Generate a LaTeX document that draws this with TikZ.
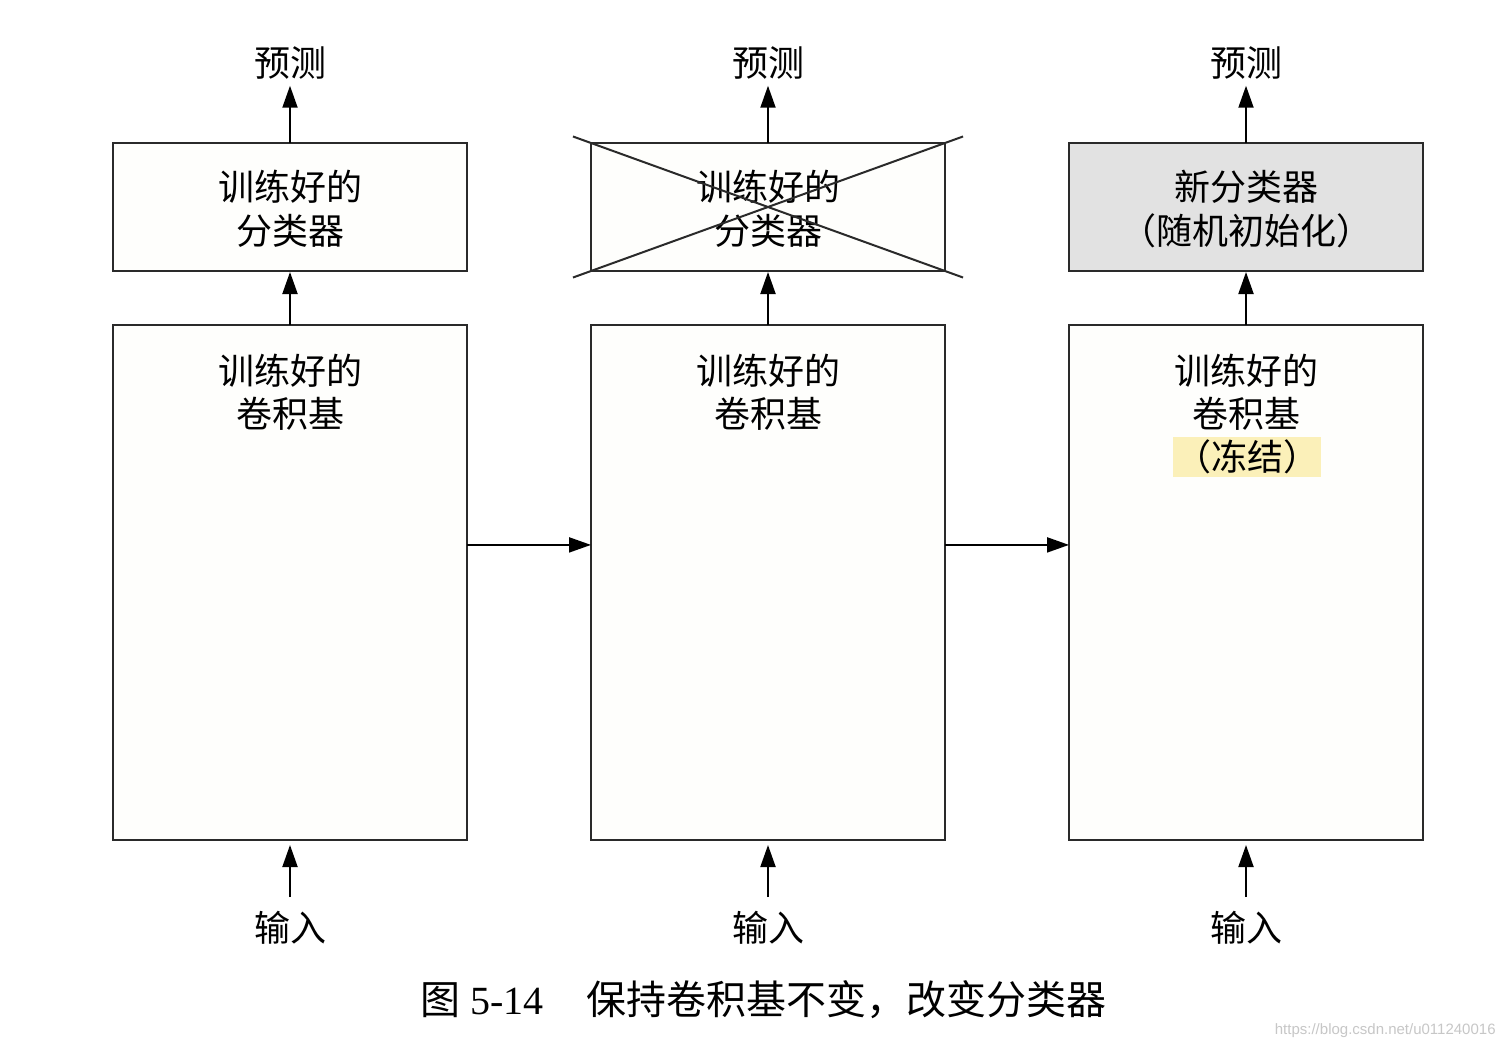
\documentclass[tikz,border=0pt]{standalone}
\usepackage{fontspec}
\setmainfont{Liberation Serif}
\newfontfamily\cjk{Noto Sans CJK SC}
\newfontfamily\wmfont{Liberation Sans}
\usetikzlibrary{arrows.meta,calc}
\definecolor{boxfill}{HTML}{FEFEFC}
\definecolor{grayfill}{HTML}{E2E2E2}
\definecolor{hl}{HTML}{FBF0B9}
\definecolor{edge}{HTML}{2A2A2A}
\begin{document}
\begin{tikzpicture}[x=0.5pt,y=-0.5pt,
  box/.style={draw=edge,line width=1.1pt,fill=boxfill,minimum width=177pt,outer sep=0pt,inner sep=0pt},
  clsbox/.style={box,minimum height=64pt,align=center,text depth=0pt,font=\cjk\fontsize{18pt}{22pt}\selectfont},
  basebox/.style={box,minimum height=257.5pt},
  lbl/.style={align=center,inner sep=0pt,font=\cjk\fontsize{18pt}{21.5pt}\selectfont},
  io/.style={inner sep=0pt,font=\cjk\fontsize{18pt}{20pt}\selectfont},
  arr/.style={line width=1pt,draw=black,-{Triangle[length=11pt,width=7.5pt]}},
  crossline/.style={line width=1pt,draw=edge}]
\useasboundingbox[fill=white] (0,0) rectangle (1504,1050);

% column 1
\node[clsbox] (c1) at (290,207) {训练好的\\分类器};
\node[basebox] (b1) at (290,582.5) {};
\node[lbl] (t1) at (290,392) {训练好的\\卷积基};
\node[io] (p1) at (290,63) {预测};
\node[io] (i1) at (290,928) {输入};

% column 2
\node[clsbox] (c2) at (768,207) {训练好的\\分类器};
\node[basebox] (b2) at (768,582.5) {};
\node[lbl] (t2) at (768,392) {训练好的\\卷积基};
\node[io] (p2) at (768,63) {预测};
\node[io] (i2) at (768,928) {输入};
\draw[crossline] ($(c2.north west)!-0.051!(c2.south east)$) -- ($(c2.south east)!-0.051!(c2.north west)$);
\draw[crossline] ($(c2.south west)!-0.051!(c2.north east)$) -- ($(c2.north east)!-0.051!(c2.south west)$);

% column 3
\node[clsbox,fill=grayfill] (c3) at (1246,207) {新分类器\\（随机初始化）};
\node[basebox] (b3) at (1246,582.5) {};
\node[lbl] (t3) at (1246,392) {训练好的\\卷积基};
\node[lbl,fill=hl,minimum width=74pt,minimum height=20pt] (f3) at (1247,457) {（冻结）};
\node[io] (p3) at (1246,63) {预测};
\node[io] (i3) at (1246,928) {输入};

% arrows
\foreach \k in {1,2,3}{
  \draw[arr,shorten >=3pt] (c\k.north) -- (p\k.south);
  \draw[arr,shorten >=0.5pt] (b\k.north) -- (c\k.south);
  \draw[arr,shorten <=7pt,shorten >=2.5pt] (i\k.north) -- (b\k.south);
}
\draw[arr] ($(b1.north east)!0.427!(b1.south east)$) -- ($(b2.north west)!0.427!(b2.south west)$);
\draw[arr] ($(b2.north east)!0.427!(b2.south east)$) -- ($(b3.north west)!0.427!(b3.south west)$);

% caption
\node[anchor=west,inner sep=0pt,font=\fontsize{20pt}{24pt}\selectfont] (cap1) at (420,1000) {{\cjk 图}\hspace{5pt}5-14};
\node[anchor=west,inner sep=0pt,font=\cjk\fontsize{20pt}{24pt}\selectfont] (cap2) at (586,1000) {保持卷积基不变，改变分类器};
\node[anchor=east,inner sep=0pt,text=black!22,font=\wmfont\fontsize{7.5pt}{9pt}\selectfont] (wm) at (1496,1031) {https://blog.csdn.net/u011240016};
\end{tikzpicture}
\end{document}
